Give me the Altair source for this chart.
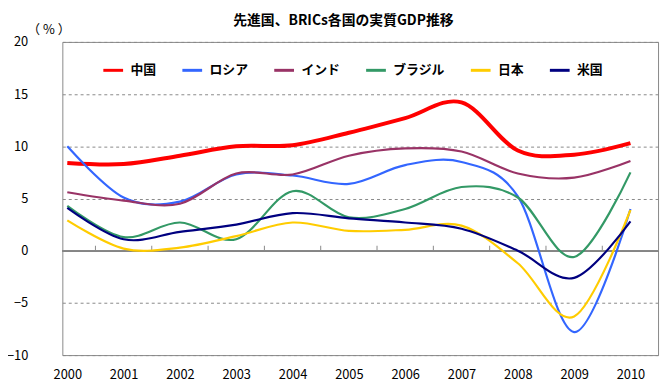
import altair as alt
import pandas as pd

years = list(range(2000, 2011))
countries = ["中国", "ロシア", "インド", "ブラジル", "日本", "米国"]
colors = ["#FF0000", "#3366FF", "#993366", "#339966", "#FFCC00", "#000080"]

china = [8.4, 8.3, 9.1, 10.0, 10.1, 11.3, 12.7, 14.2, 9.6, 9.2, 10.3]
russia = [10.0, 5.1, 4.7, 7.3, 7.2, 6.4, 8.2, 8.5, 5.2, -7.8, 4.0]
india = [5.6, 4.8, 4.5, 7.4, 7.3, 9.1, 9.8, 9.5, 7.4, 7.0, 8.6]
brazil = [4.3, 1.3, 2.7, 1.1, 5.7, 3.2, 4.0, 6.1, 5.1, -0.6, 7.5]
japan = [2.9, 0.2, 0.3, 1.4, 2.7, 1.9, 2.0, 2.4, -1.2, -6.3, 3.9]
usa = [4.1, 1.1, 1.8, 2.5, 3.6, 3.1, 2.7, 2.1, 0.0, -2.6, 2.8]

y_ticks = [-10, -5, 0, 5, 10, 15, 20]

series = [china, russia, india, brazil, japan, usa]
rows = []
for name, vals in zip(countries, series):
    for yr, v in zip(years, vals):
        rows.append({"year": yr, "country": name, "value": v})
df = pd.DataFrame(rows)

bounds = pd.DataFrame({"b": [y + 0.5 for y in years[:-1]]})

FONT = "Noto Sans CJK JP"
xscale = alt.Scale(domain=[1999.912, 2010.49], nice=False, zero=False)
yscale = alt.Scale(domain=[-10, 20], nice=False)

lines = alt.Chart(df).mark_line(interpolate="cardinal", tension=0).encode(
    x=alt.X("year:Q", scale=xscale,
            axis=alt.Axis(values=years, format="d", labelFontSize=13, labelFont=FONT,
                          labelColor="#000", domain=False, ticks=False, grid=False,
                          labelPadding=14, title=None)),
    y=alt.Y("value:Q", scale=yscale,
            axis=alt.Axis(values=y_ticks, grid=True, gridDash=[3, 3], gridColor="#888",
                          domain=False, ticks=False, tickSize=0, labelPadding=35,
                          labelFontSize=13, labelFont=FONT, labelColor="#000",
                          title="（ % ）", titleAngle=0, titleAlign="left",
                          titleBaseline="middle", titleX=-36, titleY=-13,
                          titleFontSize=13, titleFont=FONT, titleFontWeight="normal",
                          titleColor="#000")),
    color=alt.Color("country:N", scale=alt.Scale(domain=countries, range=colors),
                    legend=alt.Legend(orient="none", legendX=40, legendY=17,
                                      direction="horizontal", title=None,
                                      symbolType="stroke", symbolSize=400,
                                      symbolStrokeWidth=3, labelFontSize=13,
                                      labelFont=FONT, labelFontWeight="bold",
                                      labelColor="#000", labelOffset=6,
                                      columnPadding=19)),
    strokeWidth=alt.condition(alt.datum.country == "中国", alt.value(4), alt.value(2.2)),
)

zero = alt.Chart(df).mark_rule(color="#888", strokeWidth=1).encode(y=alt.datum(0))

ticks = alt.Chart(bounds).mark_rule(color="#888", strokeWidth=1, y2Offset=-5).encode(
    x=alt.X("b:Q", scale=xscale), y=alt.datum(0), y2=alt.datum(0)
)

chart = alt.layer(zero, ticks, lines).properties(
    width=603, height=317,
    autosize=alt.AutoSizeParams(type="none"),
    padding={"left": 55, "top": 32, "right": 4, "bottom": 33},
    title=alt.TitleParams("先進国、BRICs各国の実質GDP推移", fontSize=14, font=FONT,
                          fontWeight="bold", anchor="middle", dx=-17, offset=-5,
                          color="#000"),
).configure_view(stroke="#888", strokeWidth=1)

chart.save("out.html", embed_options={"renderer": "svg", "actions": False})
